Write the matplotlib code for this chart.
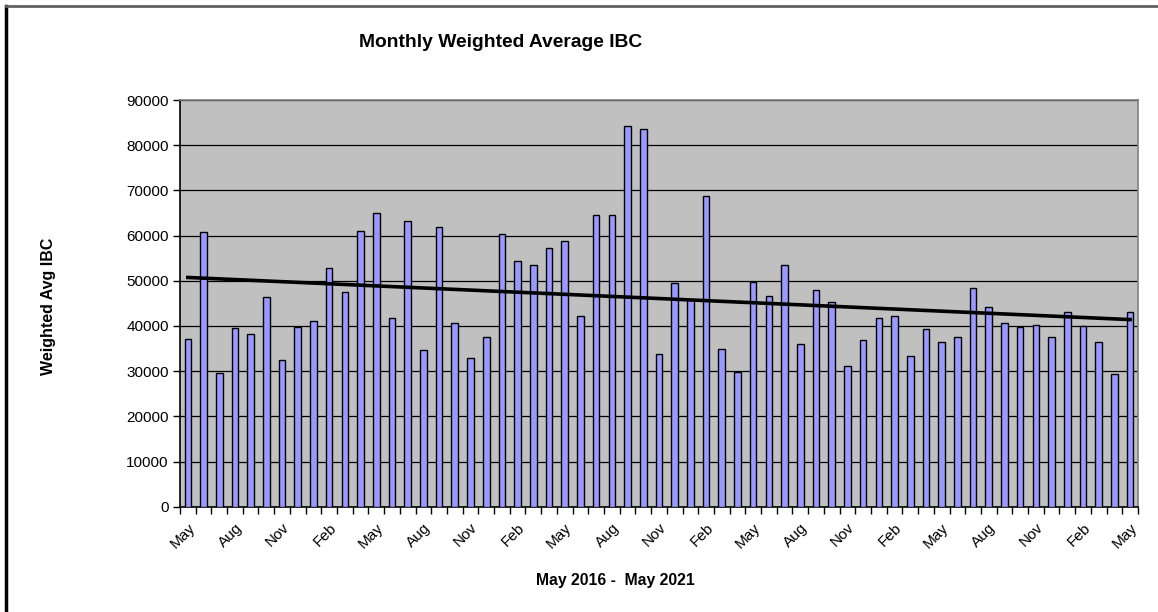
import numpy as np
import pandas as pd
import matplotlib
matplotlib.use("Agg")
import matplotlib.pyplot as plt
from matplotlib.lines import Line2D

plt.rcParams['font.family'] = ['Liberation Sans', 'DejaVu Sans']

# monthly weighted average IBC, May 2016 - May 2021
months = pd.date_range('2016-05-01', periods=61, freq='MS')
month_labels = list(months.strftime('%b'))
ibc = [
    37100, 60800, 29500, 39500, 38200, 46500, 32400, 39800, 41000, 52800,
    47600, 61100, 64900, 41700, 63300, 34600, 61900, 40700, 33000, 37500,
    60400, 54300, 53500, 57300, 58800, 42300, 64500, 64500, 84200, 83600,
    33900, 49600, 45700, 68700, 35000, 29800, 49700, 46600, 53400, 36000,
    47900, 45400, 31100, 36900, 41800, 42300, 33400, 39300, 36400, 37600,
    48300, 44100, 40700, 39700, 40300, 37500, 43000, 40000, 36400, 29400,
    43200,
]

x = np.arange(len(ibc))
slope, intercept = np.polyfit(x, ibc, 1)
trend = slope * x + intercept

fig = plt.figure(figsize=(11.58, 6.12), dpi=100)
ax = fig.add_axes([0.1554, 0.172, 0.8273, 0.6646])
ax.set_facecolor('#C0C0C0')

ax.bar(x, ibc, width=0.42, color='#9999FF', edgecolor='black', linewidth=1, zorder=3)
ax.plot(x, trend, color='black', linewidth=2.6, zorder=4)

ax.set_xlim(-0.5, len(ibc) - 0.5)
ax.set_ylim(0, 90000)
ax.set_yticks(np.arange(0, 90001, 10000))
ax.yaxis.grid(True, color='black', linewidth=0.9, zorder=1)
ax.set_axisbelow(True)

# labels every 3 months at bar centres, tick marks on category boundaries
ax.set_xticks(x[::3])
ax.set_xticklabels(month_labels[::3], rotation=45, ha='right', rotation_mode='anchor', fontsize=11)
ax.set_xticks(np.arange(-0.5, len(ibc)), minor=True)
ax.tick_params(axis='x', which='major', length=0, pad=10)
ax.tick_params(axis='x', which='minor', length=5, width=1, direction='out', color='black')
ax.tick_params(axis='y', length=5, width=1, direction='out', labelsize=11, pad=3)

for side in ['left', 'bottom']:
    ax.spines[side].set_color('black')
    ax.spines[side].set_linewidth(1.2)
for side in ['top', 'right']:
    ax.spines[side].set_color('#808080')
    ax.spines[side].set_linewidth(1.2)

fig.text(0.432, 0.930, 'Monthly Weighted Average IBC', ha='center', va='center',
         fontsize=13.9, fontweight='bold')
fig.text(0.042, 0.50, 'Weighted Avg IBC', ha='center', va='center', rotation=90,
         fontsize=11.5, fontweight='bold')
fig.text(0.531, 0.051, 'May 2016 -  May 2021', ha='center', va='center',
         fontsize=11.3, fontweight='bold')

# outer chart frame (left and top edges visible)
fig.add_artist(Line2D([0.0055, 0.0055], [0, 0.991], transform=fig.transFigure, color='black', linewidth=2.5))
fig.add_artist(Line2D([0.0055, 1.0], [0.991, 0.991], transform=fig.transFigure, color='#606060', linewidth=2))

fig.savefig('out.png', dpi=100)
